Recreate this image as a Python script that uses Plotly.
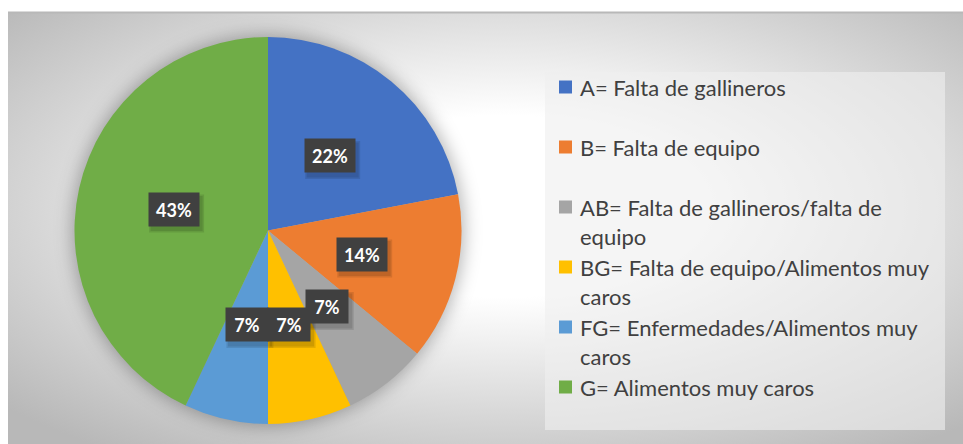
import base64
import math
import plotly.graph_objects as go

# ---- data ----
labels = [
    "A= Falta de gallineros",
    "B= Falta de equipo",
    "AB= Falta de gallineros/falta de<br>equipo",
    "BG= Falta de equipo/Alimentos muy<br>caros",
    "FG= Enfermedades/Alimentos muy<br>caros",
    "G= Alimentos muy caros",
]
values = [22, 14, 7, 7, 7, 43]
colors = ["#4472C4", "#ED7D31", "#A5A5A5", "#FFC000", "#5B9BD5", "#70AD47"]

W, H = 963, 444
CX, CY, R = 268, 230.5, 193.5


def px(x):
    return x / W


def py(y):
    return 1 - y / H


# ---- background (radial gradient + pie shadow) ----
svg = f'''<svg xmlns="http://www.w3.org/2000/svg" width="{W}" height="{H}" viewBox="0 0 {W} {H}" preserveAspectRatio="none">
<defs>
<radialGradient id="g" cx="0.52" cy="0.45" r="0.7">
<stop offset="0" stop-color="#ffffff"/>
<stop offset="0.3" stop-color="#ffffff"/>
<stop offset="1" stop-color="#b8b8b8"/>
</radialGradient>
<filter id="b" x="-50%" y="-50%" width="200%" height="200%"><feGaussianBlur stdDeviation="9"/></filter>
</defs>
<rect width="{W}" height="{H}" fill="#ffffff"/>
<rect x="8" y="12" width="{W-8}" height="{H-12}" fill="url(#g)"/>
<line x1="8" y1="12.5" x2="{W}" y2="12.5" stroke="#b8b8b8" stroke-width="2"/>
<circle cx="{CX}" cy="{CY}" r="{R+2}" fill="#000000" fill-opacity="0.3" filter="url(#b)"/>
</svg>'''
bg_uri = "data:image/svg+xml;base64," + base64.b64encode(svg.encode()).decode()

fig = go.Figure()
fig.add_trace(go.Pie(
    labels=[l.replace("<br>", " ") for l in labels],
    values=values,
    marker=dict(colors=colors, line=dict(width=0)),
    sort=False,
    direction="clockwise",
    rotation=0,
    textinfo="none",
    hoverinfo="label+percent",
    showlegend=False,
    domain=dict(x=[px(CX - R), px(CX + R)], y=[py(CY + R), py(CY - R)]),
))

annotations = []
shapes = []

# ---- data labels (dark boxes at half radius on each slice's mid-angle) ----
total = sum(values)
cum = 0
label_pos = []
for v in values:
    mid = (cum + v / 2) / total * 2 * math.pi
    cum += v
    lx = CX + 0.5 * R * math.sin(mid)
    ly = CY - 0.5 * R * math.cos(mid)
    label_pos.append((lx, ly, f"{round(v / total * 100)}%"))

font_lbl = dict(family="Lato", size=18, color="white", weight="bold")
BOX_H = 35
for lx, ly, t in label_pos:
    bw = 8 * len(t) + 28
    # drop shadow
    for k, a in ((0, 0.10), (1.5, 0.10)):
        shapes.append(dict(type="rect", xref="paper", yref="paper", layer="above",
                           x0=px(lx - bw / 2 + 3 - k), x1=px(lx + bw / 2 + 3 + k),
                           y0=py(ly + BOX_H / 2 + 4 + k), y1=py(ly - BOX_H / 2 + 4 - k),
                           fillcolor=f"rgba(0,0,0,{a})", line=dict(width=0)))
for lx, ly, t in label_pos:
    bw = 8 * len(t) + 28
    annotations.append(dict(
        x=px(lx), y=py(ly), xref="paper", yref="paper", showarrow=False,
        xanchor="center", yanchor="middle",
        text=t, font=font_lbl, width=bw - 14, height=BOX_H - 14,
        bgcolor="#404040", borderpad=6, align="center", valign="middle",
    ))

# ---- legend ----
shapes.append(dict(type="rect", xref="paper", yref="paper",
                   x0=px(545), x1=px(945), y0=py(430), y1=py(72),
                   fillcolor="rgba(239,239,239,0.62)", line=dict(width=0), layer="above"))
for i, (lab, col) in enumerate(zip(labels, colors)):
    y0 = 87 + 60 * i
    shapes.append(dict(type="rect", xref="paper", yref="paper",
                       x0=px(559), x1=px(572), y0=py(y0 + 6.5), y1=py(y0 - 6.5),
                       fillcolor=col, line=dict(width=0), layer="above"))
    for j, line in enumerate(lab.split("<br>")):
        annotations.append(dict(
            x=px(578), y=py(y0 + 29.5 * j), xref="paper", yref="paper",
            xanchor="left", yanchor="middle", showarrow=False, text=line,
            font=dict(family="Lato", size=22, color="#404040"),
        ))

fig.update_layout(
    width=W, height=H,
    margin=dict(l=0, r=0, t=0, b=0),
    paper_bgcolor="white", plot_bgcolor="rgba(0,0,0,0)",
    images=[dict(source=bg_uri, xref="paper", yref="paper", x=0, y=1,
                 sizex=1, sizey=1, sizing="stretch", layer="below",
                 xanchor="left", yanchor="top")],
    shapes=shapes,
    annotations=annotations,
)

fig.write_html("out.html", config={"displayModeBar": False},
               post_script="document.body.style.margin='0';document.body.style.overflow='hidden';")
